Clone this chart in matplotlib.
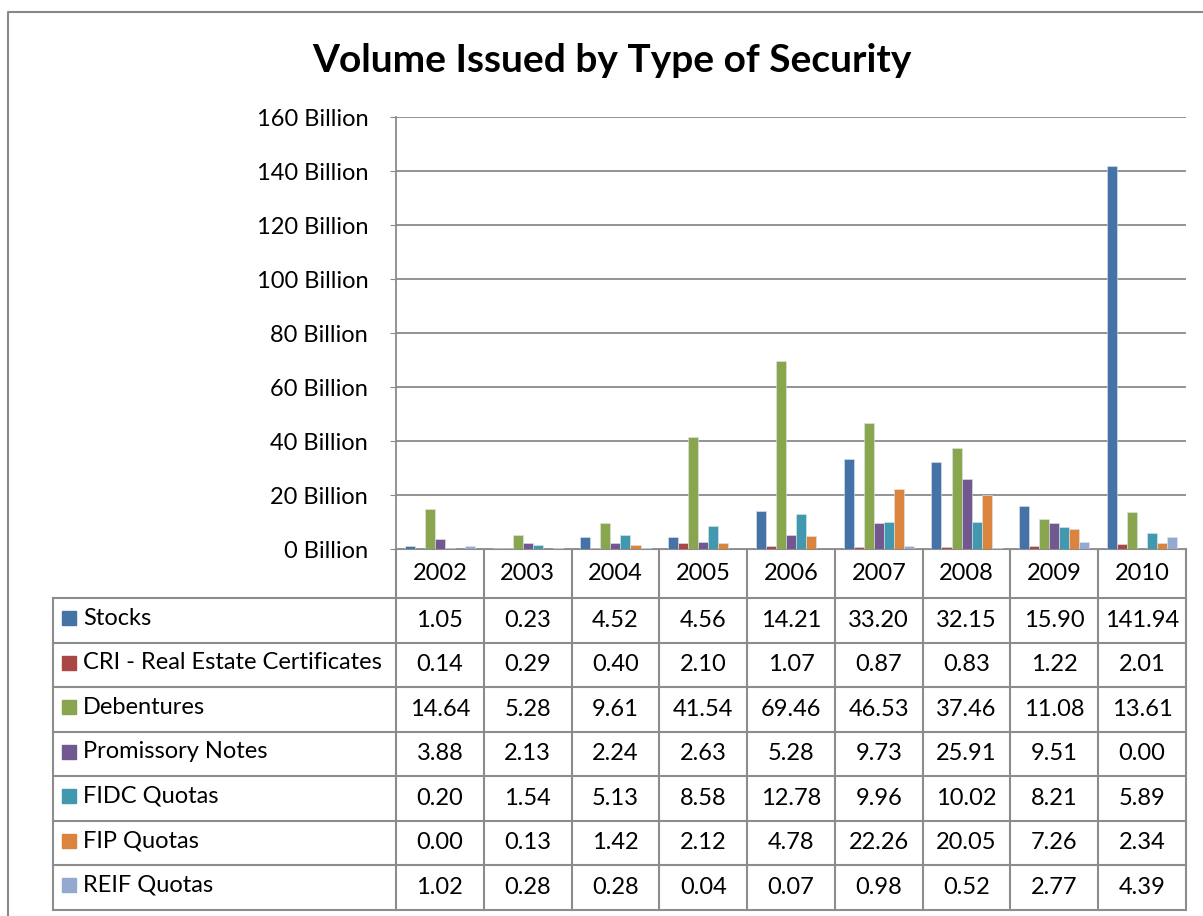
import numpy as np
import matplotlib
matplotlib.use('Agg')
import matplotlib.pyplot as plt
from matplotlib.patches import Rectangle

plt.rcParams['font.family'] = ['Lato', 'DejaVu Sans']

years = ['2002', '2003', '2004', '2005', '2006', '2007', '2008', '2009', '2010']
series_names = ['Stocks', 'CRI - Real Estate Certificates', 'Debentures',
                'Promissory Notes', 'FIDC Quotas', 'FIP Quotas', 'REIF Quotas']
stocks = [1.05, 0.23, 4.52, 4.56, 14.21, 33.20, 32.15, 15.90, 141.94]
cri = [0.14, 0.29, 0.40, 2.10, 1.07, 0.87, 0.83, 1.22, 2.01]
debentures = [14.64, 5.28, 9.61, 41.54, 69.46, 46.53, 37.46, 11.08, 13.61]
promissory = [3.88, 2.13, 2.24, 2.63, 5.28, 9.73, 25.91, 9.51, 0.00]
fidc = [0.20, 1.54, 5.13, 8.58, 12.78, 9.96, 10.02, 8.21, 5.89]
fip = [0.00, 0.13, 1.42, 2.12, 4.78, 22.26, 20.05, 7.26, 2.34]
reif = [1.02, 0.28, 0.28, 0.04, 0.07, 0.98, 0.52, 2.77, 4.39]
values = [stocks, cri, debentures, promissory, fidc, fip, reif]
colors = ['#4572A7', '#AA4643', '#89A54E', '#71588F', '#4198AF', '#DB843D', '#93A9CF']

W, H = 1203, 916
fig = plt.figure(figsize=(W / 100, H / 100), dpi=100)
fs = 17

# layout in pixels
px0, px1 = 396, 1186
py_top, py_bot = 117, 549
grid_c = '#8A8A8A'

ax = fig.add_axes([px0 / W, 1 - py_bot / H, (px1 - px0) / W, (py_bot - py_top) / H])
n = len(series_names)
bw = 0.8 / n
x = np.arange(len(years))
for i, (vals, c) in enumerate(zip(values, colors)):
    ax.bar(x - 0.4 + bw * (i + 0.5), vals, width=bw, color=c,
           edgecolor='#dfe6f0', linewidth=0.4)
ax.set_xlim(-0.5, len(years) - 0.5)
ax.set_ylim(0, 160)
ax.set_yticks(np.arange(0, 161, 20))
ax.set_yticklabels(['%d Billion' % v for v in range(0, 161, 20)], fontsize=fs)
ax.yaxis.grid(True, color=grid_c, linewidth=1.3)
ax.set_axisbelow(True)
ax.set_xticks([])
for s in ['top', 'right', 'bottom']:
    ax.spines[s].set_visible(False)
ax.spines['left'].set_color(grid_c)
ax.spines['left'].set_linewidth(1.3)
ax.tick_params(axis='y', length=4, color=grid_c, pad=16)

# overlay for title, table and border
ov = fig.add_axes([0, 0, 1, 1], zorder=-1)
ov.set_xlim(0, W)
ov.set_ylim(H, 0)
ov.axis('off')

ov.text(612, 61, 'Volume Issued by Type of Security', fontsize=28,
        fontweight='bold', ha='center', va='center')

# outer chart border
ov.plot([7.5, 7.5, W + 5], [H + 5, 12, 12], color='#888888', lw=1.5)

col_w = (px1 - px0) / len(years)
row_top = 598
row_h = 44.5
tbl_bot = row_top + row_h * n
lc = '#8C8C8C'
lw = 1.5
# horizontal lines
ov.plot([px0, px1], [py_bot, py_bot], color=lc, lw=lw)
for r in range(n + 1):
    ov.plot([53, px1], [row_top + r * row_h] * 2, color=lc, lw=lw)
# vertical lines
for j in range(len(years) + 1):
    ov.plot([px0 + j * col_w] * 2, [py_bot, tbl_bot], color=lc, lw=lw)
ov.plot([53, 53], [row_top, tbl_bot], color=lc, lw=lw)

for j, yr in enumerate(years):
    ov.text(px0 + (j + 0.5) * col_w, 574, yr, fontsize=fs, ha='center', va='center')

for r, (name, vals, c) in enumerate(zip(series_names, values, colors)):
    yc = row_top + (r + 0.5) * row_h
    ov.add_patch(Rectangle((62, yc - 9), 14, 14, color=c))
    ov.text(83, yc - 2, name, fontsize=fs, ha='left', va='center')
    for j, v in enumerate(vals):
        ov.text(px0 + (j + 0.5) * col_w, yc, '%.2f' % v, fontsize=fs,
                ha='center', va='center')

fig.savefig('out.png', dpi=100)
